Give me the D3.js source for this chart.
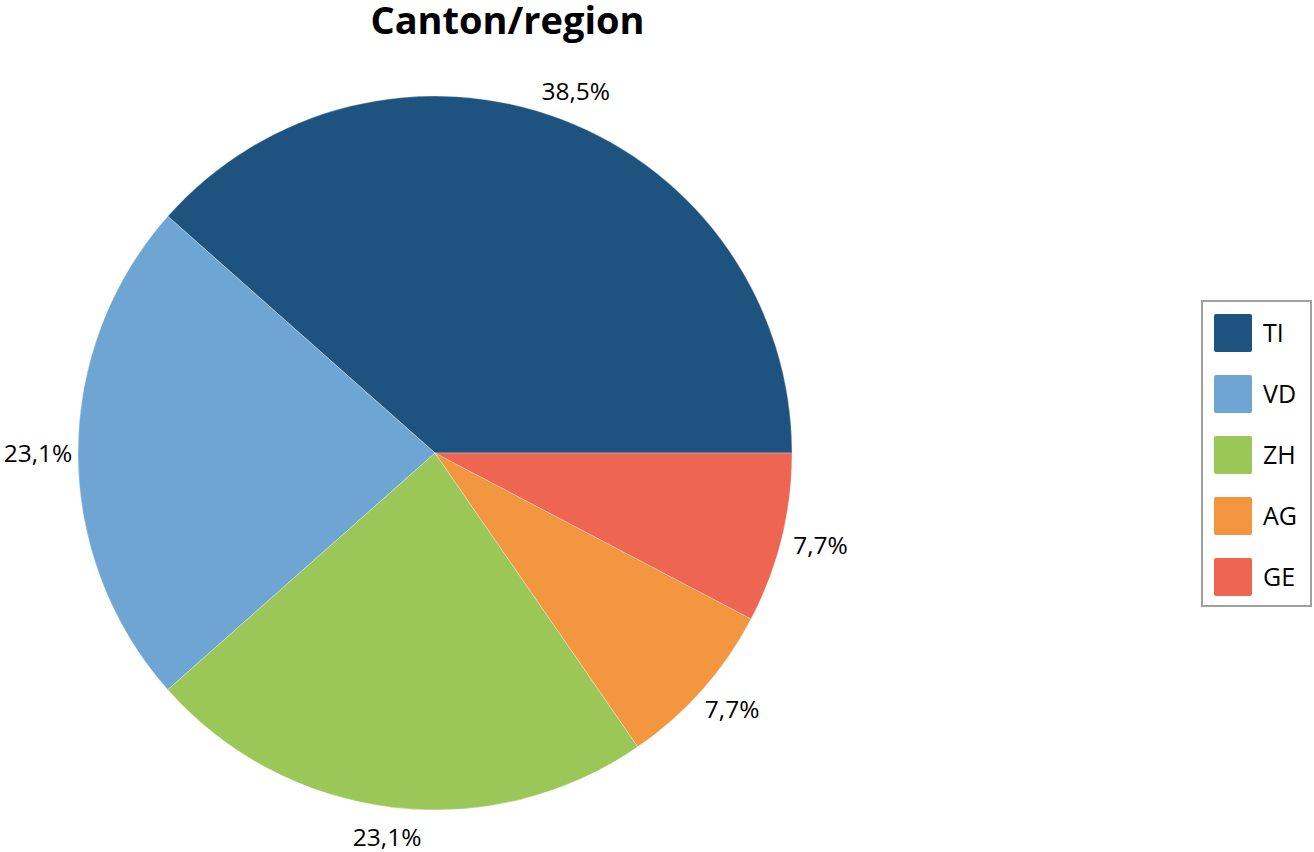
<!DOCTYPE html>
<html><head><meta charset="utf-8">
<script src="https://cdn.jsdelivr.net/npm/d3@7"></script>
<style>body{margin:0;background:#fff}svg{display:block}text{font-family:"Open Sans",sans-serif}</style>
</head><body>
<script>
const categories = ["TI","VD","ZH","AG","GE"];
const values = [5,3,3,1,1];
const colors = ["#1e5380","#6fa5d2","#9bc759","#f39640","#ee6652"];
const title = "Canton/region";

const W=1314,H=852;
const svg=d3.select("body").append("svg").attr("width",W).attr("height",H);
const cx=435, cy=453, r=357;

svg.append("text").attr("x",507.5).attr("y",34).attr("text-anchor","middle")
  .attr("font-weight","bold").attr("font-size",38).attr("fill","#000").text(title);

const total=d3.sum(values);
const pie=d3.pie().sort(null).startAngle(Math.PI/2).endAngle(Math.PI/2-2*Math.PI);
const arcs=pie(values);
const arc=d3.arc().innerRadius(0).outerRadius(r);
const g=svg.append("g").attr("transform",`translate(${cx},${cy})`);
g.selectAll("path").data(arcs).join("path").attr("d",arc)
  .attr("fill",(d,i)=>colors[i]).attr("stroke","#fff").attr("stroke-width",0.3);

const fmt=v=>(v/total*100).toFixed(1).replace(".",",")+"%";
g.selectAll("text.lbl").data(arcs).join("text").attr("class","lbl")
  .attr("text-anchor","middle").attr("font-size",24.5).attr("fill","#000")
  .attr("x",d=>{const a=(d.startAngle+d.endAngle)/2;return Math.sin(a)*(r+40);})
  .attr("y",d=>{const a=(d.startAngle+d.endAngle)/2;return -Math.cos(a)*(r+30)+8.5;})
  .text(d=>fmt(d.value));

const lg=svg.append("g");
lg.append("rect").attr("x",1202).attr("y",301).attr("width",109).attr("height",305)
  .attr("fill","#fff").attr("stroke","#a0a0a0").attr("stroke-width",2);
const items=lg.selectAll("g.it").data(categories).join("g").attr("class","it")
  .attr("transform",(d,i)=>`translate(1214,${314+i*61})`);
items.append("rect").attr("width",38).attr("height",38).attr("rx",2)
  .attr("fill",(d,i)=>colors[i]);
items.append("text").attr("x",49).attr("y",19+9).attr("font-size",25).attr("fill","#000").text(d=>d);
</script>
</body></html>
